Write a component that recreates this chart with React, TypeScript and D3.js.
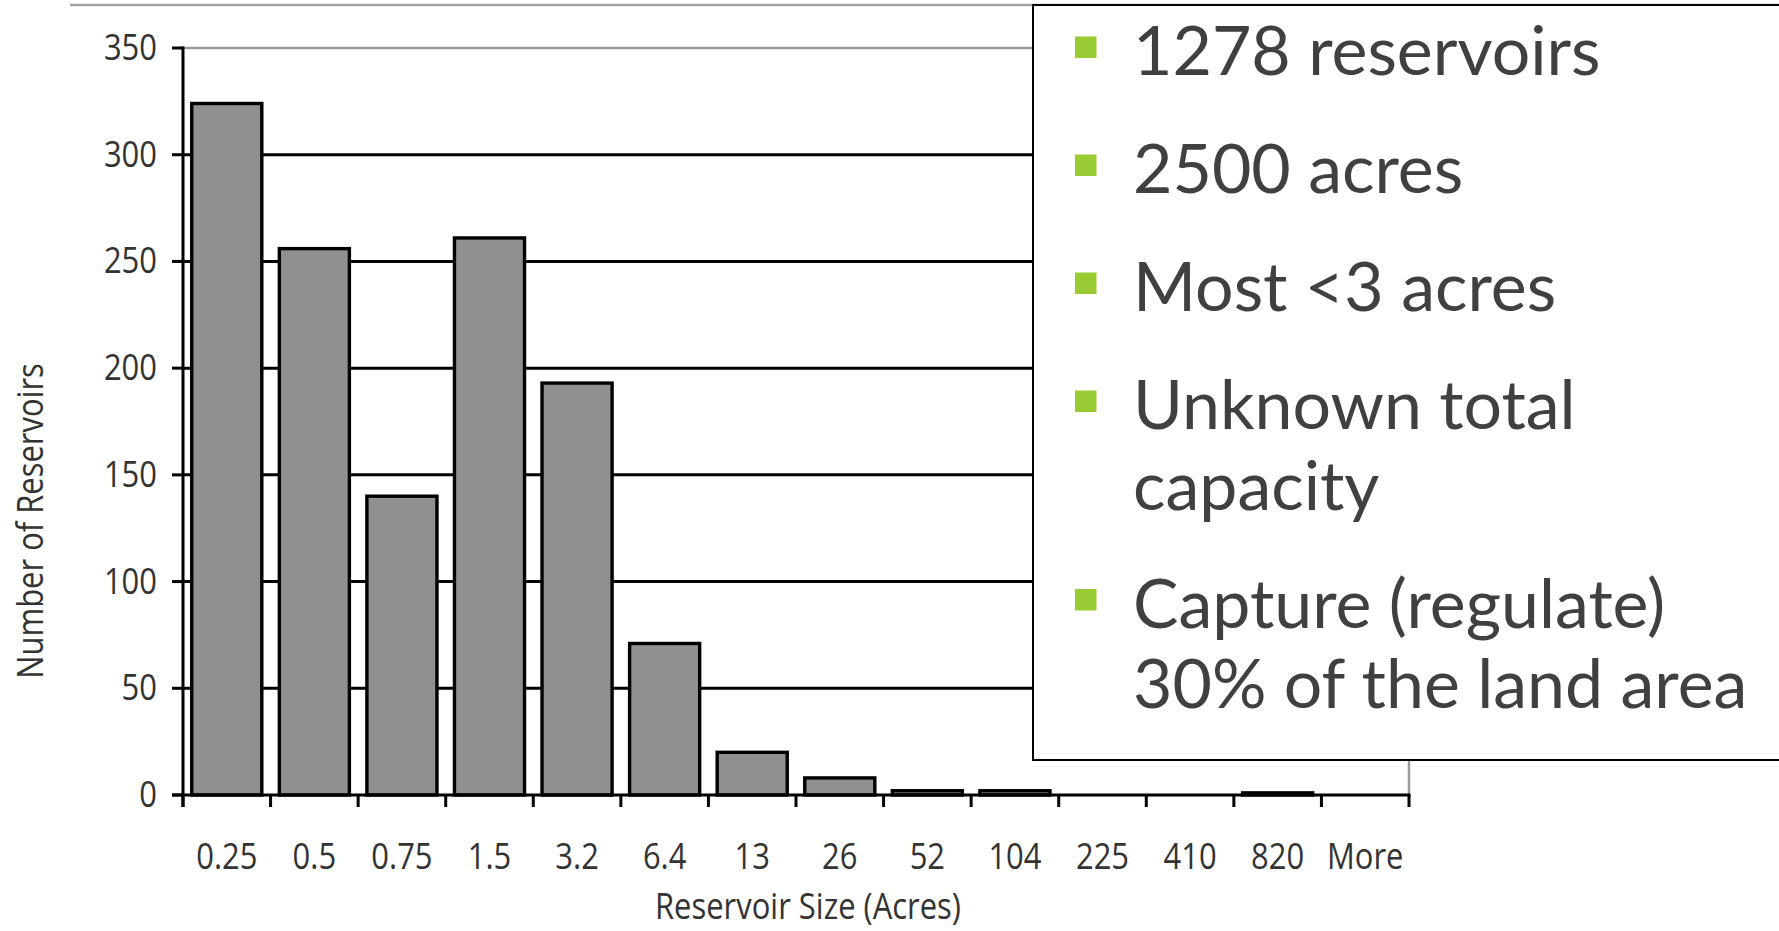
import React from "react";
import * as d3 from "d3";

// Reservoir size classes (acres) and number of reservoirs in each class
const sizeClasses = ["0.25", "0.5", "0.75", "1.5", "3.2", "6.4", "13", "26", "52", "104", "225", "410", "820", "More"];
const reservoirCounts = [324, 256, 140, 261, 193, 71, 20, 8, 2, 2, 0, 0, 1, 0];
const yTickValues = [0, 50, 100, 150, 200, 250, 300, 350];

// Summary points shown in the callout box
const summaryPoints: string[][] = [
  ["1278 reservoirs"],
  ["2500 acres"],
  ["Most <3 acres"],
  ["Unknown total", "capacity"],
  ["Capture (regulate)", "30% of the land area"],
];

const W = 1779;
const H = 931;
const plot = { left: 183, right: 1409, top: 48, bottom: 795 };

const axisFont = "'Open Sans', 'Noto Sans', sans-serif";
const axisSize = 36;
const squeeze = 0.86; // condensed look for the axis lettering
const boxFont = "Lato, 'Open Sans', sans-serif";

function CondensedText(props: {
  x: number;
  y: number;
  anchor?: "start" | "middle" | "end";
  rotate?: number;
  children: React.ReactNode;
}) {
  const { x, y, anchor = "start", rotate = 0, children } = props;
  return (
    <text
      transform={`translate(${x},${y}) rotate(${rotate}) scale(${squeeze},1)`}
      textAnchor={anchor}
      fontFamily={axisFont}
      fontSize={axisSize}
      fill="#333"
    >
      {children}
    </text>
  );
}

export default function App() {
  const x = d3
    .scaleBand<string>()
    .domain(sizeClasses)
    .range([plot.left, plot.right])
    .paddingInner(0.2)
    .paddingOuter(0.1);
  const y = d3.scaleLinear().domain([0, 350]).range([plot.bottom, plot.top]);
  const step = x.step();
  const tickXs = d3.range(sizeClasses.length + 1).map((i) => plot.left + i * step);

  // callout layout
  const boxX = 1033;
  const boxY = 5;
  const boxBottom = 760;
  const textX = 1133;
  const firstBaseline = 75;
  const itemGap = 118;
  const lineGap = 80.5;
  let cursor = firstBaseline;
  const items = summaryPoints.map((lines) => {
    const base = cursor;
    cursor += (lines.length - 1) * lineGap + itemGap;
    return { lines, base };
  });

  return (
    <svg
      width={W}
      height={H}
      style={{ position: "absolute", left: 0, top: 0, background: "#fff" }}
    >
      {/* slide header rule */}
      <line x1={70} x2={W} y1={5} y2={5} stroke="#a3a3a3" strokeWidth={2.5} />

      {/* horizontal gridlines */}
      {yTickValues
        .filter((v) => v > 0)
        .map((v) => (
          <line
            key={"g" + v}
            x1={plot.left}
            x2={plot.right}
            y1={y(v)}
            y2={y(v)}
            stroke={v === 350 ? "#9c9c9c" : "#000"}
            strokeWidth={v === 350 ? 2.5 : 3}
          />
        ))}
      {/* right frame */}
      <line x1={plot.right} x2={plot.right} y1={plot.top} y2={plot.bottom} stroke="#9c9c9c" strokeWidth={2.5} />

      {/* bars */}
      {sizeClasses.map((c, i) => {
        const v = reservoirCounts[i];
        const top = y(v);
        return (
          <rect
            key={c}
            x={x(c)}
            y={top}
            width={x.bandwidth()}
            height={Math.max(0, plot.bottom - top)}
            fill="#8f9092"
            stroke="#000"
            strokeWidth={3.4}
          />
        );
      })}

      {/* y axis */}
      <line x1={plot.left} x2={plot.left} y1={plot.top - 1.5} y2={plot.bottom + 12} stroke="#000" strokeWidth={3} />
      {yTickValues.map((v) => (
        <g key={"yt" + v}>
          <line x1={plot.left - 11} x2={plot.left} y1={y(v)} y2={y(v)} stroke="#000" strokeWidth={3} />
          <CondensedText x={157} y={y(v) + 12} anchor="end">
            {v}
          </CondensedText>
        </g>
      ))}

      {/* x axis */}
      <line x1={plot.left - 11} x2={plot.right + 1.5} y1={plot.bottom} y2={plot.bottom} stroke="#000" strokeWidth={3} />
      {tickXs.map((tx, i) => (
        <line key={"xt" + i} x1={tx} x2={tx} y1={plot.bottom} y2={plot.bottom + 12} stroke="#000" strokeWidth={3} />
      ))}
      {sizeClasses.map((c) => (
        <CondensedText key={"xl" + c} x={(x(c) ?? 0) + x.bandwidth() / 2} y={869} anchor="middle">
          {c}
        </CondensedText>
      ))}

      {/* axis titles */}
      <CondensedText x={808} y={919} anchor="middle">
        Reservoir Size (Acres)
      </CondensedText>
      <CondensedText x={43} y={521} anchor="middle" rotate={-90}>
        Number of Reservoirs
      </CondensedText>

      {/* callout box */}
      <rect
        x={boxX}
        y={boxY}
        width={W - boxX + 10}
        height={boxBottom - boxY}
        fill="#fff"
        stroke="#000"
        strokeWidth={2}
      />
      {items.map((it, i) => (
        <g key={"b" + i}>
          <rect x={1075} y={it.base - 38.5} width={21.5} height={21.5} fill="#99cc33" />
          {it.lines.map((ln, j) => (
            <text
              key={j}
              x={textX}
              y={it.base + j * lineGap}
              fontFamily={boxFont}
              fontSize={68}
              fill="#404040"
            >
              {ln}
            </text>
          ))}
        </g>
      ))}
    </svg>
  );
}
